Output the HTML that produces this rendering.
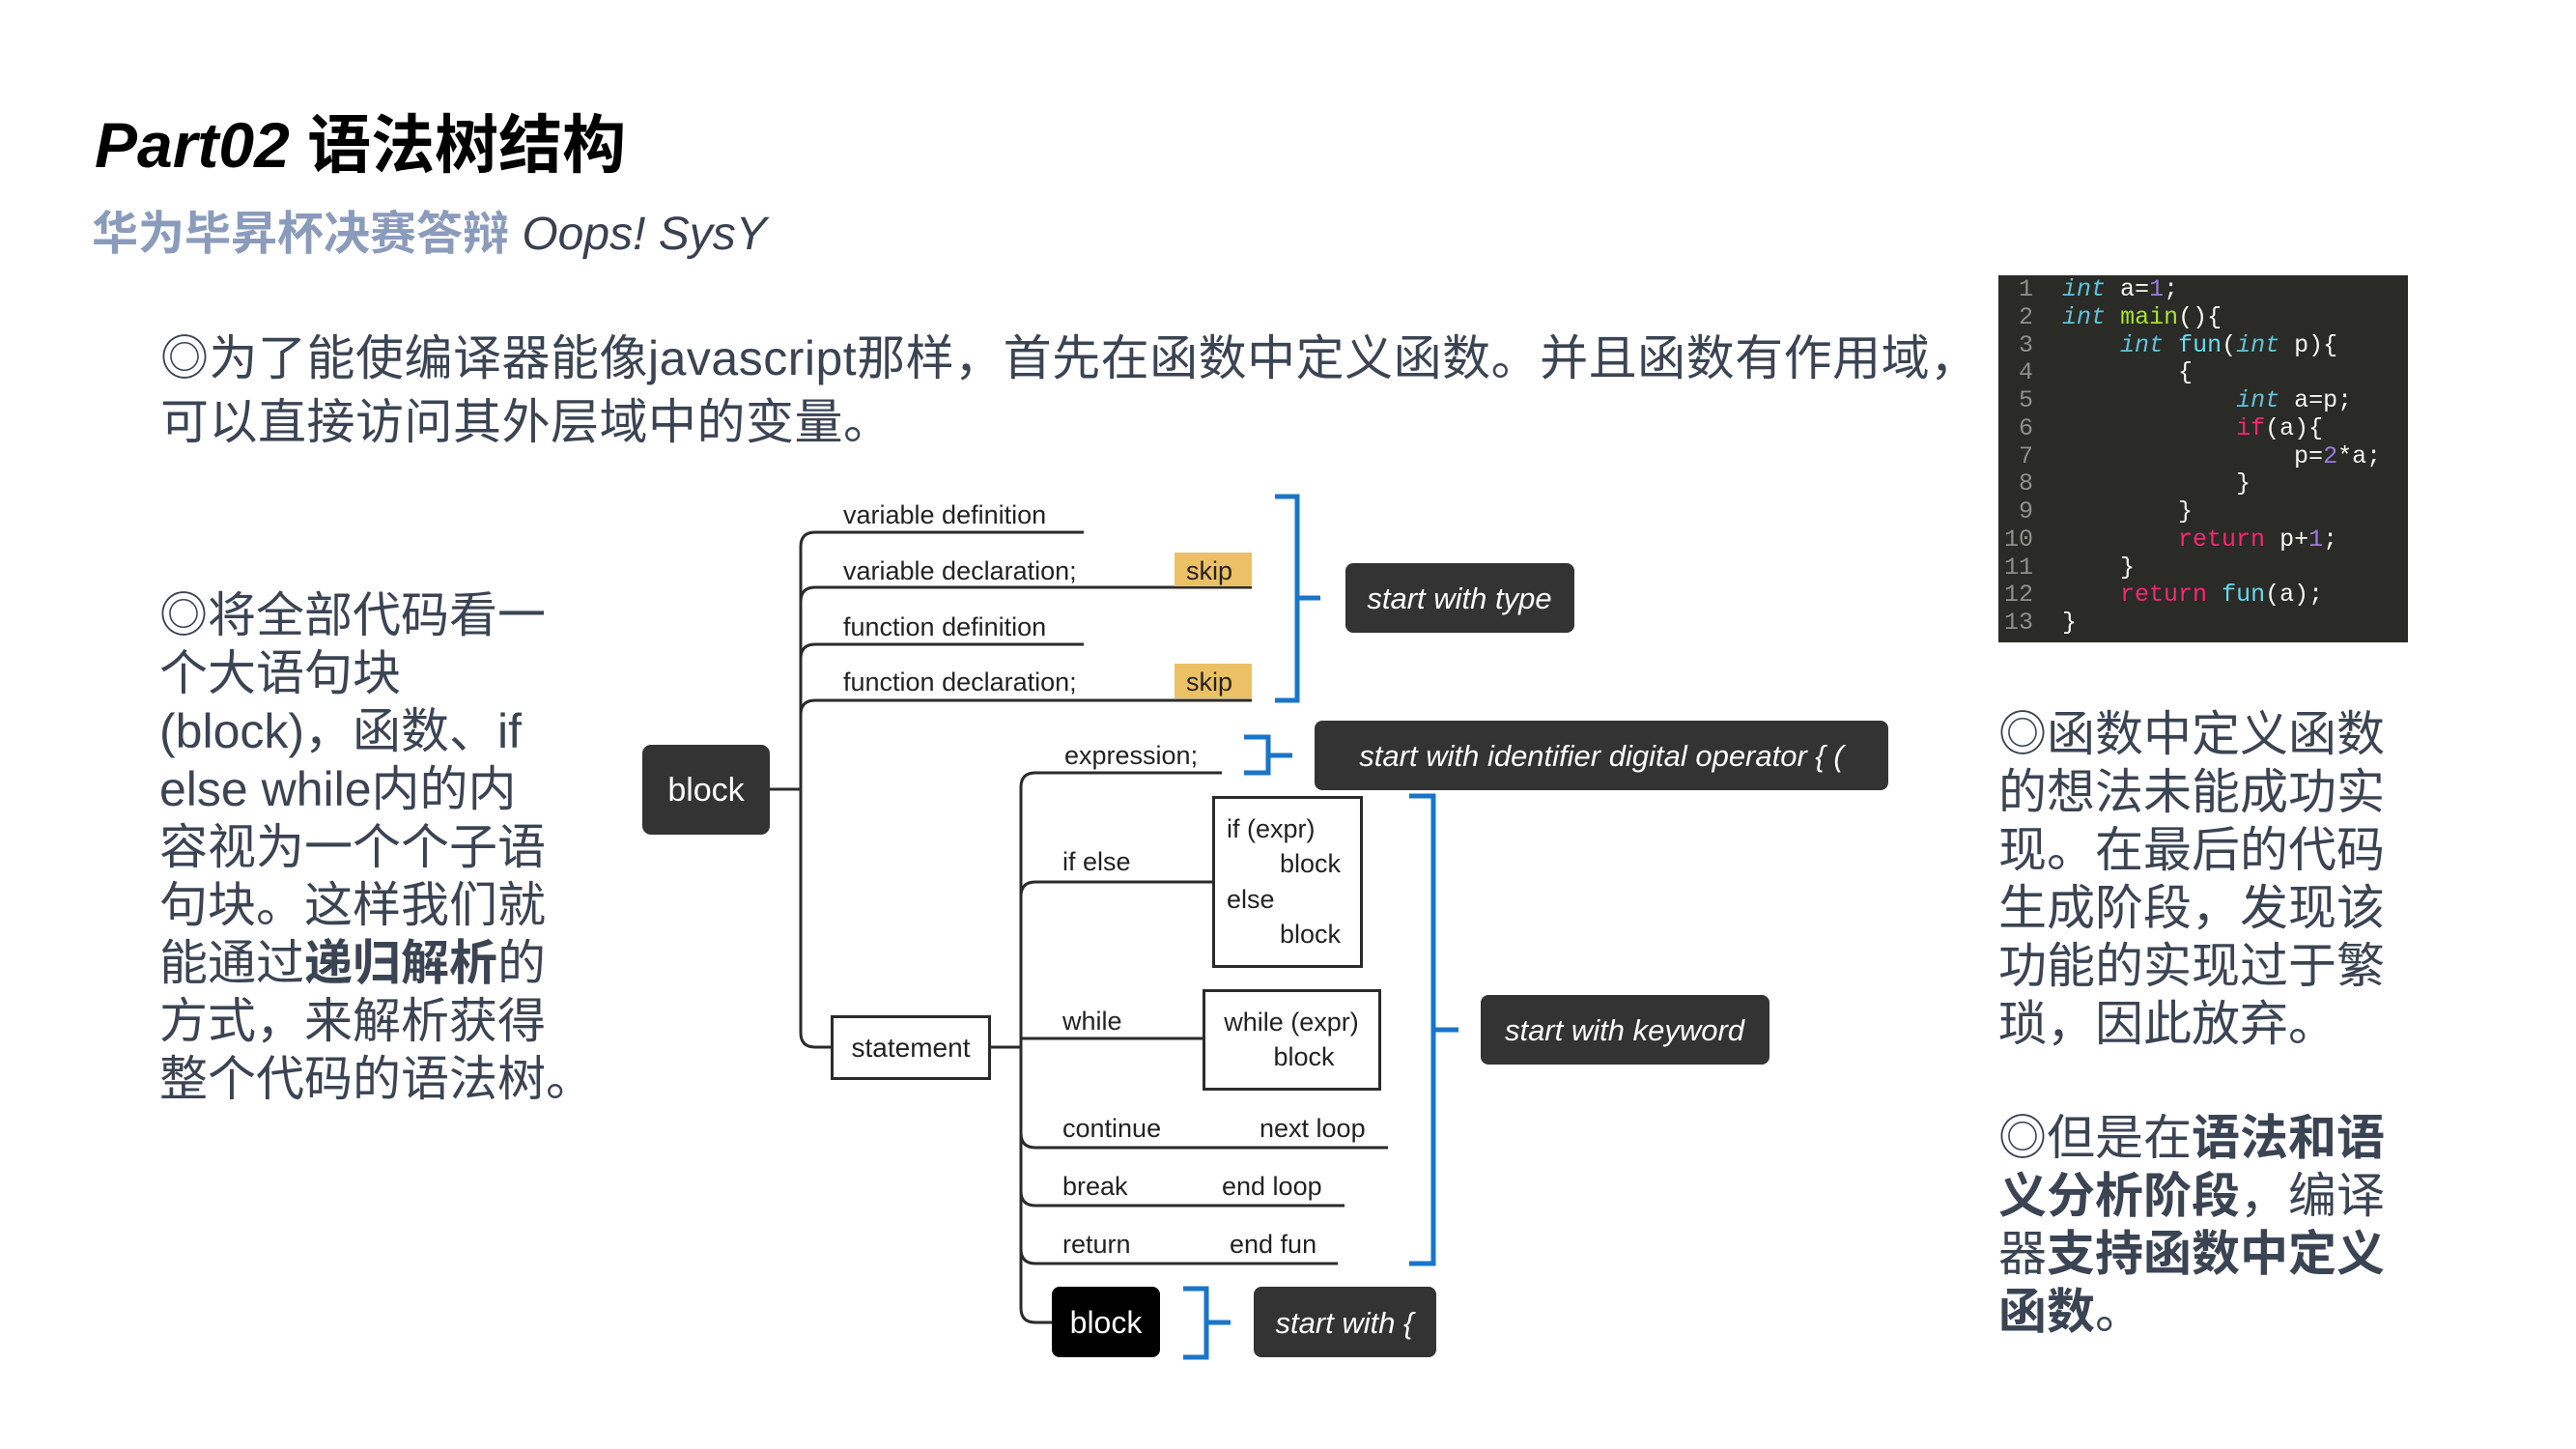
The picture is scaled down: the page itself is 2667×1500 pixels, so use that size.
<!DOCTYPE html>
<html><head><meta charset="utf-8"><style>
html,body{margin:0;padding:0;background:#fff;}
body{width:2667px;height:1500px;position:relative;overflow:hidden;font-family:"Liberation Sans","Noto Sans CJK SC",sans-serif;}
.abs{position:absolute;white-space:nowrap;}
.title{left:98px;top:114px;font-size:66px;line-height:72px;font-weight:bold;color:#000;}
.title i{font-style:italic;}
.sub{left:95px;top:214px;font-size:48px;line-height:58px;color:#8b9bbb;font-weight:bold;}
.sub i{font-weight:normal;color:#3a4150;font-style:italic;}
.p1{left:166px;top:338px;font-size:50px;line-height:66px;color:#3b4453;letter-spacing:0.5px;}
.pl{left:165px;top:607px;font-size:50px;line-height:60px;color:#3b4453;}
.pr{left:2069px;font-size:50px;line-height:60px;color:#3b4453;}
b{font-weight:bold;}
.code{position:absolute;left:2069px;top:285px;width:424px;height:380px;background:#2a2a26;}
.code pre{margin:0;position:absolute;left:6px;top:0;font-family:"Liberation Mono",monospace;font-size:25px;line-height:28.75px;color:#f8f8f2;padding-top:1px;}
.ln{color:#8f908a;}
.k{color:#5fc3d8;font-style:italic;}
.n{color:#a07ae0;}
.g{color:#a6e22e;}
.c{color:#66d9ef;}
.r{color:#f92672;}
</style></head><body>
<div class="abs title"><i>Part02</i> 语法树结构</div>
<div class="abs sub">华为毕昇杯决赛答辩 <i>Oops! SysY</i></div>
<div class="abs p1">◎为了能使编译器能像javascript那样，首先在函数中定义函数。并且函数有作用域，<br>可以直接访问其外层域中的变量。</div>
<div class="abs pl">◎将全部代码看一<br>个大语句块<br>(block)，函数、if<br>else while内的内<br>容视为一个个子语<br>句块。这样我们就<br>能通过<b>递归解析</b>的<br>方式，来解析获得<br>整个代码的语法树。</div>
<div class="abs pr" style="top:730px">◎函数中定义函数<br>的想法未能成功实<br>现。在最后的代码<br>生成阶段，发现该<br>功能的实现过于繁<br>琐，因此放弃。</div>
<div class="abs pr" style="top:1148px">◎但是在<b>语法和语</b><br><b>义分析阶段</b>，编译<br>器<b>支持函数中定义</b><br><b>函数</b>。</div>

<div class="code"><pre><span class="ln"> 1</span>  <span class="k">int</span> a=<span class="n">1</span>;
<span class="ln"> 2</span>  <span class="k">int</span> <span class="g">main</span>(){
<span class="ln"> 3</span>      <span class="k">int</span> <span class="c">fun</span>(<span class="k">int</span> p){
<span class="ln"> 4</span>          {
<span class="ln"> 5</span>              <span class="k">int</span> a=p;
<span class="ln"> 6</span>              <span class="r">if</span>(a){
<span class="ln"> 7</span>                  p=<span class="n">2</span>*a;
<span class="ln"> 8</span>              }
<span class="ln"> 9</span>          }
<span class="ln">10</span>          <span class="r">return</span> p+<span class="n">1</span>;
<span class="ln">11</span>      }
<span class="ln">12</span>      <span class="r">return</span> <span class="c">fun</span>(a);
<span class="ln">13</span>  }</pre></div>

<svg class="abs" style="left:0;top:0" width="2667" height="1500" xmlns="http://www.w3.org/2000/svg" font-family="Liberation Sans, sans-serif">
<g fill="none" stroke="#2b2b2b" stroke-width="3">
<path d="M797,817 H829"/>
<path d="M829,1069 V566 Q829,551 844,551 H1122"/>
<path d="M829,623 Q829,608 844,608 H1296"/>
<path d="M829,682 Q829,667 844,667 H1122"/>
<path d="M829,740 Q829,725 844,725 H1296"/>
<path d="M829,1069 Q829,1084 844,1084 H860"/>
<path d="M1025,1084 H1057"/>
<path d="M1057,1354 V815 Q1057,800 1072,800 H1265"/>
<path d="M1057,928 Q1057,913 1072,913 H1255"/>
<path d="M1057,1075 H1245"/>
<path d="M1057,1173 Q1057,1188 1072,1188 H1437"/>
<path d="M1057,1233 Q1057,1248 1072,1248 H1392"/>
<path d="M1057,1293 Q1057,1308 1072,1308 H1385"/>
<path d="M1057,1354 Q1057,1369 1072,1369 H1089"/>
</g>
<rect x="1216" y="572" width="80" height="35" fill="#ecc165"/>
<rect x="1216" y="687" width="80" height="36" fill="#ecc165"/>
<g fill="none" stroke="#1a75c8" stroke-width="5">
<path d="M1320,514 H1343 V725 H1320 M1343,619 H1367"/>
<path d="M1288,763 H1313 V800 H1288 M1313,782 H1338"/>
<path d="M1459,824 H1484 V1308 H1459 M1484,1066 H1510"/>
<path d="M1225,1334 H1249 V1405 H1225 M1249,1369 H1274"/>
</g>
<rect x="665" y="771" width="132" height="93" rx="9" fill="#333333"/>
<text x="731" y="829" font-size="34" fill="#fff" text-anchor="middle">block</text>
<rect x="861.5" y="1052.5" width="163" height="64" fill="#fff" stroke="#2b2b2b" stroke-width="3"/>
<text x="943" y="1094" font-size="28" fill="#222" text-anchor="middle">statement</text>
<rect x="1256.5" y="825.5" width="153" height="175" fill="#fff" stroke="#2b2b2b" stroke-width="3"/>
<rect x="1246.5" y="1025.5" width="182" height="102" fill="#fff" stroke="#2b2b2b" stroke-width="3"/>
<rect x="1089" y="1332" width="112" height="73" rx="8" fill="#000"/>
<text x="1145" y="1380" font-size="32" fill="#fff" text-anchor="middle">block</text>
<g fill="#333333">
<rect x="1393" y="583" width="237" height="72" rx="8"/>
<rect x="1361" y="746" width="594" height="72" rx="8"/>
<rect x="1533" y="1030" width="299" height="72" rx="8"/>
<rect x="1298" y="1332" width="189" height="73" rx="8"/>
</g>
<g font-size="31" fill="#fff" font-style="italic" text-anchor="middle">
<text x="1511" y="630">start with type</text>
<text x="1658" y="793">start with identifier digital operator { (</text>
<text x="1682" y="1077">start with keyword</text>
<text x="1392" y="1380">start with {</text>
</g>
<g font-size="27" fill="#222">
<text x="873" y="542">variable definition</text>
<text x="873" y="600">variable declaration;</text>
<text x="1228" y="600">skip</text>
<text x="873" y="658">function definition</text>
<text x="873" y="715">function declaration;</text>
<text x="1228" y="715">skip</text>
<text x="1102" y="791">expression;</text>
<text x="1100" y="901">if else</text>
<text x="1270" y="867">if (expr)</text>
<text x="1325" y="903">block</text>
<text x="1270" y="940">else</text>
<text x="1325" y="976">block</text>
<text x="1100" y="1066">while</text>
<text x="1337" y="1067" text-anchor="middle">while (expr)</text>
<text x="1350" y="1103" text-anchor="middle">block</text>
<text x="1100" y="1177">continue</text>
<text x="1304" y="1177">next loop</text>
<text x="1100" y="1237">break</text>
<text x="1265" y="1237">end loop</text>
<text x="1100" y="1297">return</text>
<text x="1273" y="1297">end fun</text>
</g>
</svg>
</body></html>
